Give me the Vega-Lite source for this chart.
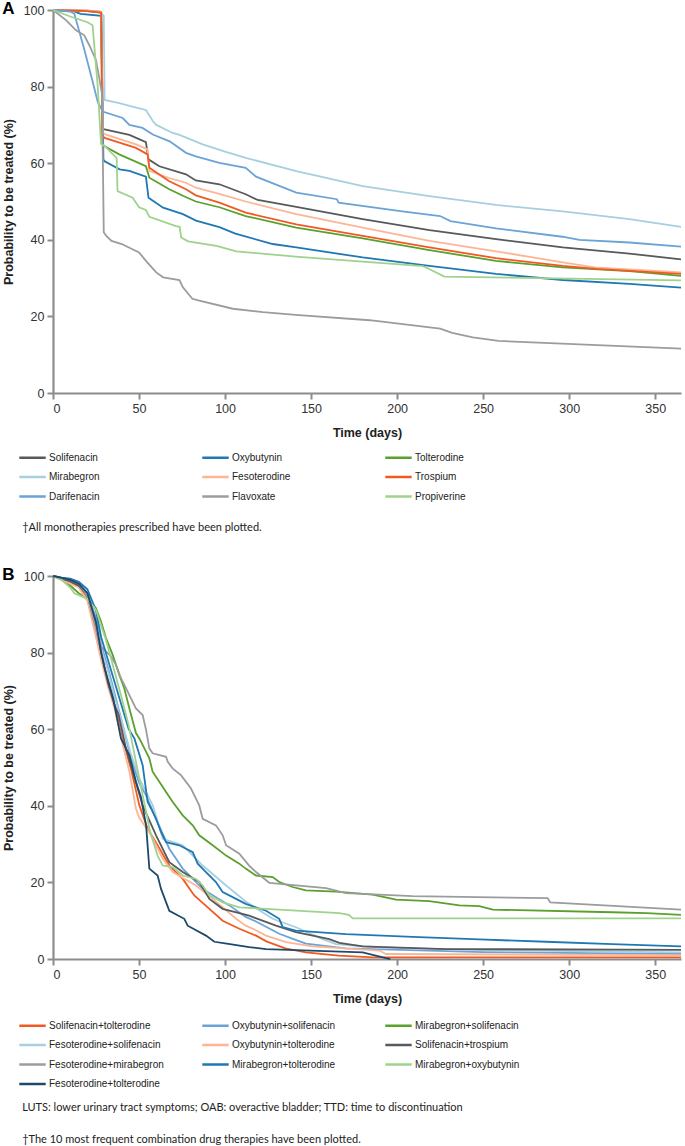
{
  "$schema": "https://vega.github.io/schema/vega-lite/v6.json",
  "padding": {"left": 2, "top": 0, "right": 0, "bottom": 0},
  "background": "white",
  "spacing": 33,
  "config": {
    "view": {"stroke": null},
    "font": "Liberation Sans",
    "axis": {"grid": false, "domainColor": "#8c8c8c", "domainWidth": 2.2, "tickColor": "#8c8c8c", "tickWidth": 2, "tickSize": 6, "labelFont": "Liberation Sans", "labelFontSize": 12.5, "labelColor": "#333333", "labelPadding": 3, "titleFont": "Liberation Sans", "titleFontSize": 12.5, "titleFontWeight": "bold", "titleColor": "#222222"},
    "axisX": {"titlePadding": 12},
    "axisY": {"titlePadding": 8},
    "legend": {"orient": "none", "direction": "horizontal", "columns": 3, "gridAlign": "all", "symbolType": "M-2.2,0H2.2", "symbolSize": 144, "symbolStrokeWidth": 2.5, "labelFont": "Liberation Sans", "labelFontSize": 10, "labelColor": "#222222", "labelOffset": 9, "rowPadding": 6.5, "labelLimit": 300}
  },
  "resolve": {"scale": {"color": "independent"}, "legend": {"color": "independent"}},
  "datasets": {
    "mono": [
      {"drug":"Solifenacin","day":0,"p":100},{"drug":"Solifenacin","day":20,"p":99.8},{"drug":"Solifenacin","day":28,"p":99.5},{"drug":"Solifenacin","day":29,"p":69},{"drug":"Solifenacin","day":30,"p":68.8},{"drug":"Solifenacin","day":44.4,"p":67.4},{"drug":"Solifenacin","day":54,"p":65.5},{"drug":"Solifenacin","day":55.5,"p":61},{"drug":"Solifenacin","day":61.8,"p":59.2},{"drug":"Solifenacin","day":77.3,"p":57.1},{"drug":"Solifenacin","day":83,"p":55.5},{"drug":"Solifenacin","day":96.7,"p":54.5},{"drug":"Solifenacin","day":112,"p":51.9},{"drug":"Solifenacin","day":119,"p":50.4},{"drug":"Solifenacin","day":141.4,"p":48.6},{"drug":"Solifenacin","day":180,"p":45.4},{"drug":"Solifenacin","day":218.8,"p":42.5},{"drug":"Solifenacin","day":257.5,"p":40.2},{"drug":"Solifenacin","day":296.3,"p":38},{"drug":"Solifenacin","day":335,"p":36.4},{"drug":"Solifenacin","day":365,"p":34.9},
      {"drug":"Oxybutynin","day":0,"p":100},{"drug":"Oxybutynin","day":12,"p":99.7},{"drug":"Oxybutynin","day":16,"p":99},{"drug":"Oxybutynin","day":28,"p":98.5},{"drug":"Oxybutynin","day":29.3,"p":61},{"drug":"Oxybutynin","day":30,"p":60.5},{"drug":"Oxybutynin","day":38.7,"p":58.4},{"drug":"Oxybutynin","day":44.4,"p":58},{"drug":"Oxybutynin","day":54,"p":56.5},{"drug":"Oxybutynin","day":55.5,"p":51},{"drug":"Oxybutynin","day":64,"p":48.4},{"drug":"Oxybutynin","day":75.5,"p":46.7},{"drug":"Oxybutynin","day":83.1,"p":45},{"drug":"Oxybutynin","day":96.7,"p":43.3},{"drug":"Oxybutynin","day":106,"p":41.6},{"drug":"Oxybutynin","day":127.7,"p":38.9},{"drug":"Oxybutynin","day":141.4,"p":38},{"drug":"Oxybutynin","day":180,"p":35.4},{"drug":"Oxybutynin","day":218.8,"p":33.2},{"drug":"Oxybutynin","day":257.5,"p":31.1},{"drug":"Oxybutynin","day":296.3,"p":29.5},{"drug":"Oxybutynin","day":335,"p":28.5},{"drug":"Oxybutynin","day":365,"p":27.5},
      {"drug":"Tolterodine","day":0,"p":100},{"drug":"Tolterodine","day":20,"p":99.7},{"drug":"Tolterodine","day":28,"p":99.3},{"drug":"Tolterodine","day":28.7,"p":65},{"drug":"Tolterodine","day":30,"p":64.4},{"drug":"Tolterodine","day":38.5,"p":62.3},{"drug":"Tolterodine","day":54,"p":59.2},{"drug":"Tolterodine","day":56,"p":56.2},{"drug":"Tolterodine","day":67.6,"p":53.2},{"drug":"Tolterodine","day":75.5,"p":51.5},{"drug":"Tolterodine","day":83,"p":50},{"drug":"Tolterodine","day":96.7,"p":48.5},{"drug":"Tolterodine","day":112,"p":46.2},{"drug":"Tolterodine","day":141.4,"p":43.2},{"drug":"Tolterodine","day":180,"p":40.4},{"drug":"Tolterodine","day":218.8,"p":37.3},{"drug":"Tolterodine","day":257.5,"p":34.5},{"drug":"Tolterodine","day":296.3,"p":32.8},{"drug":"Tolterodine","day":335,"p":31.8},{"drug":"Tolterodine","day":365,"p":30.6},
      {"drug":"Mirabegron","day":0,"p":100},{"drug":"Mirabegron","day":15,"p":99.9},{"drug":"Mirabegron","day":27,"p":99.5},{"drug":"Mirabegron","day":29.5,"p":98.5},{"drug":"Mirabegron","day":30,"p":76.5},{"drug":"Mirabegron","day":38.5,"p":75.7},{"drug":"Mirabegron","day":48.4,"p":74.5},{"drug":"Mirabegron","day":54,"p":73.9},{"drug":"Mirabegron","day":58,"p":71},{"drug":"Mirabegron","day":60,"p":70},{"drug":"Mirabegron","day":69.6,"p":67.9},{"drug":"Mirabegron","day":73.5,"p":67.4},{"drug":"Mirabegron","day":87,"p":64.9},{"drug":"Mirabegron","day":100,"p":63},{"drug":"Mirabegron","day":112,"p":61.4},{"drug":"Mirabegron","day":141.4,"p":57.9},{"drug":"Mirabegron","day":180,"p":54},{"drug":"Mirabegron","day":218.8,"p":51.4},{"drug":"Mirabegron","day":257.5,"p":49.1},{"drug":"Mirabegron","day":296.3,"p":47.4},{"drug":"Mirabegron","day":335,"p":45.4},{"drug":"Mirabegron","day":365,"p":43.4},
      {"drug":"Fesoterodine","day":0,"p":100},{"drug":"Fesoterodine","day":20,"p":99.8},{"drug":"Fesoterodine","day":28,"p":99.5},{"drug":"Fesoterodine","day":29,"p":68},{"drug":"Fesoterodine","day":30,"p":67.6},{"drug":"Fesoterodine","day":48.2,"p":64.9},{"drug":"Fesoterodine","day":55,"p":63.6},{"drug":"Fesoterodine","day":56,"p":58},{"drug":"Fesoterodine","day":67,"p":56.2},{"drug":"Fesoterodine","day":77.3,"p":54.9},{"drug":"Fesoterodine","day":83,"p":53.6},{"drug":"Fesoterodine","day":96.7,"p":52},{"drug":"Fesoterodine","day":112,"p":50},{"drug":"Fesoterodine","day":141.4,"p":46.7},{"drug":"Fesoterodine","day":180,"p":43.2},{"drug":"Fesoterodine","day":218.8,"p":39.7},{"drug":"Fesoterodine","day":257.5,"p":37},{"drug":"Fesoterodine","day":296.3,"p":34.1},{"drug":"Fesoterodine","day":315,"p":32.8},{"drug":"Fesoterodine","day":365,"p":31.5},
      {"drug":"Trospium","day":0,"p":100},{"drug":"Trospium","day":20,"p":99.7},{"drug":"Trospium","day":28,"p":99.3},{"drug":"Trospium","day":28.7,"p":67.2},{"drug":"Trospium","day":30,"p":66.6},{"drug":"Trospium","day":48.2,"p":64},{"drug":"Trospium","day":55,"p":62.3},{"drug":"Trospium","day":56,"p":58.8},{"drug":"Trospium","day":67.6,"p":55.3},{"drug":"Trospium","day":77.3,"p":53.2},{"drug":"Trospium","day":83,"p":51.6},{"drug":"Trospium","day":96.7,"p":49.7},{"drug":"Trospium","day":112,"p":47.1},{"drug":"Trospium","day":141.4,"p":44},{"drug":"Trospium","day":180,"p":41},{"drug":"Trospium","day":218.8,"p":38},{"drug":"Trospium","day":257.5,"p":35.2},{"drug":"Trospium","day":296.3,"p":33.2},{"drug":"Trospium","day":316,"p":32.4},{"drug":"Trospium","day":365,"p":31.1},
      {"drug":"Darifenacin","day":0,"p":100},{"drug":"Darifenacin","day":10,"p":99.6},{"drug":"Darifenacin","day":12.4,"p":99},{"drug":"Darifenacin","day":18,"p":90},{"drug":"Darifenacin","day":23.2,"p":81},{"drug":"Darifenacin","day":26,"p":76},{"drug":"Darifenacin","day":28.9,"p":73.5},{"drug":"Darifenacin","day":40.5,"p":71.8},{"drug":"Darifenacin","day":44.4,"p":70},{"drug":"Darifenacin","day":52,"p":69.2},{"drug":"Darifenacin","day":58,"p":67.5},{"drug":"Darifenacin","day":67.8,"p":65.7},{"drug":"Darifenacin","day":77.3,"p":62.7},{"drug":"Darifenacin","day":83,"p":61.8},{"drug":"Darifenacin","day":96.7,"p":60.1},{"drug":"Darifenacin","day":112,"p":58.8},{"drug":"Darifenacin","day":118,"p":56.5},{"drug":"Darifenacin","day":141.4,"p":52.3},{"drug":"Darifenacin","day":165,"p":50.6},{"drug":"Darifenacin","day":166,"p":49.7},{"drug":"Darifenacin","day":203,"p":47.4},{"drug":"Darifenacin","day":225,"p":46.2},{"drug":"Darifenacin","day":231,"p":44.9},{"drug":"Darifenacin","day":257.5,"p":43},{"drug":"Darifenacin","day":296,"p":40.8},{"drug":"Darifenacin","day":306,"p":40},{"drug":"Darifenacin","day":335,"p":39.3},{"drug":"Darifenacin","day":365,"p":38.2},
      {"drug":"Flavoxate","day":0,"p":100},{"drug":"Flavoxate","day":7.7,"p":97.3},{"drug":"Flavoxate","day":13.4,"p":94.7},{"drug":"Flavoxate","day":18.2,"p":93.4},{"drug":"Flavoxate","day":21.1,"p":90.8},{"drug":"Flavoxate","day":25,"p":86.9},{"drug":"Flavoxate","day":26.9,"p":82.2},{"drug":"Flavoxate","day":28.5,"p":78},{"drug":"Flavoxate","day":29.5,"p":42},{"drug":"Flavoxate","day":31,"p":41},{"drug":"Flavoxate","day":34,"p":39.7},{"drug":"Flavoxate","day":40,"p":38.9},{"drug":"Flavoxate","day":50,"p":36.7},{"drug":"Flavoxate","day":54,"p":34.5},{"drug":"Flavoxate","day":60,"p":31.5},{"drug":"Flavoxate","day":64,"p":30.2},{"drug":"Flavoxate","day":73.5,"p":29.5},{"drug":"Flavoxate","day":75.5,"p":27.6},{"drug":"Flavoxate","day":81,"p":24.6},{"drug":"Flavoxate","day":85,"p":24.1},{"drug":"Flavoxate","day":104.5,"p":22},{"drug":"Flavoxate","day":122,"p":21.1},{"drug":"Flavoxate","day":141,"p":20.4},{"drug":"Flavoxate","day":184,"p":19},{"drug":"Flavoxate","day":225,"p":16.8},{"drug":"Flavoxate","day":232,"p":15.7},{"drug":"Flavoxate","day":244,"p":14.5},{"drug":"Flavoxate","day":259,"p":13.6},{"drug":"Flavoxate","day":365,"p":11.6},
      {"drug":"Propiverine","day":0,"p":100},{"drug":"Propiverine","day":10,"p":98.3},{"drug":"Propiverine","day":20,"p":96.8},{"drug":"Propiverine","day":23,"p":96},{"drug":"Propiverine","day":26,"p":80},{"drug":"Propiverine","day":27.9,"p":65},{"drug":"Propiverine","day":30,"p":64.5},{"drug":"Propiverine","day":37,"p":61.3},{"drug":"Propiverine","day":37.5,"p":52.7},{"drug":"Propiverine","day":46.3,"p":51},{"drug":"Propiverine","day":50,"p":48.5},{"drug":"Propiverine","day":54,"p":47.8},{"drug":"Propiverine","day":56,"p":46},{"drug":"Propiverine","day":71.5,"p":43.6},{"drug":"Propiverine","day":73.6,"p":43.4},{"drug":"Propiverine","day":74.5,"p":40.6},{"drug":"Propiverine","day":78.5,"p":39.6},{"drug":"Propiverine","day":95,"p":38.4},{"drug":"Propiverine","day":106.6,"p":37},{"drug":"Propiverine","day":141,"p":35.6},{"drug":"Propiverine","day":215,"p":33.1},{"drug":"Propiverine","day":218,"p":32.5},{"drug":"Propiverine","day":227.5,"p":30.4},{"drug":"Propiverine","day":365,"p":29.4}
    ],
    "combo": [
      {"drug":"Solifenacin+tolterodine","day":0,"p":100},{"drug":"Solifenacin+tolterodine","day":5,"p":99.3},{"drug":"Solifenacin+tolterodine","day":10,"p":98.5},{"drug":"Solifenacin+tolterodine","day":15,"p":97.2},{"drug":"Solifenacin+tolterodine","day":20,"p":94},{"drug":"Solifenacin+tolterodine","day":25,"p":86},{"drug":"Solifenacin+tolterodine","day":28,"p":80},{"drug":"Solifenacin+tolterodine","day":32,"p":72},{"drug":"Solifenacin+tolterodine","day":36,"p":66},{"drug":"Solifenacin+tolterodine","day":40,"p":58},{"drug":"Solifenacin+tolterodine","day":45.3,"p":49.7},{"drug":"Solifenacin+tolterodine","day":50.2,"p":40.1},{"drug":"Solifenacin+tolterodine","day":55,"p":34},{"drug":"Solifenacin+tolterodine","day":60.8,"p":29.7},{"drug":"Solifenacin+tolterodine","day":67.6,"p":24.4},{"drug":"Solifenacin+tolterodine","day":75.4,"p":20.9},{"drug":"Solifenacin+tolterodine","day":82.1,"p":16.6},{"drug":"Solifenacin+tolterodine","day":90.9,"p":13.1},{"drug":"Solifenacin+tolterodine","day":98.6,"p":10},{"drug":"Solifenacin+tolterodine","day":108.3,"p":7.9},{"drug":"Solifenacin+tolterodine","day":118,"p":6.1},{"drug":"Solifenacin+tolterodine","day":124,"p":4.6},{"drug":"Solifenacin+tolterodine","day":135,"p":2.8},{"drug":"Solifenacin+tolterodine","day":147,"p":1.75},{"drug":"Solifenacin+tolterodine","day":166,"p":0.9},{"drug":"Solifenacin+tolterodine","day":186,"p":0.4},{"drug":"Solifenacin+tolterodine","day":365,"p":0.4},
      {"drug":"Oxybutynin+solifenacin","day":0,"p":100},{"drug":"Oxybutynin+solifenacin","day":5,"p":99.5},{"drug":"Oxybutynin+solifenacin","day":10,"p":99},{"drug":"Oxybutynin+solifenacin","day":15,"p":98},{"drug":"Oxybutynin+solifenacin","day":20,"p":95.5},{"drug":"Oxybutynin+solifenacin","day":25,"p":89},{"drug":"Oxybutynin+solifenacin","day":28,"p":82},{"drug":"Oxybutynin+solifenacin","day":32,"p":76},{"drug":"Oxybutynin+solifenacin","day":36,"p":69},{"drug":"Oxybutynin+solifenacin","day":40,"p":62},{"drug":"Oxybutynin+solifenacin","day":45,"p":53},{"drug":"Oxybutynin+solifenacin","day":50,"p":46},{"drug":"Oxybutynin+solifenacin","day":54,"p":42.8},{"drug":"Oxybutynin+solifenacin","day":59.9,"p":36.6},{"drug":"Oxybutynin+solifenacin","day":67.6,"p":28.8},{"drug":"Oxybutynin+solifenacin","day":75.4,"p":23.6},{"drug":"Oxybutynin+solifenacin","day":87,"p":18.3},{"drug":"Oxybutynin+solifenacin","day":102.5,"p":14},{"drug":"Oxybutynin+solifenacin","day":112,"p":11},{"drug":"Oxybutynin+solifenacin","day":118,"p":9.8},{"drug":"Oxybutynin+solifenacin","day":131.5,"p":6.6},{"drug":"Oxybutynin+solifenacin","day":141,"p":5},{"drug":"Oxybutynin+solifenacin","day":147,"p":4},{"drug":"Oxybutynin+solifenacin","day":170,"p":2.8},{"drug":"Oxybutynin+solifenacin","day":250,"p":1.8},{"drug":"Oxybutynin+solifenacin","day":365,"p":1.3},
      {"drug":"Mirabegron+solifenacin","day":0,"p":100},{"drug":"Mirabegron+solifenacin","day":5,"p":99},{"drug":"Mirabegron+solifenacin","day":10,"p":97.5},{"drug":"Mirabegron+solifenacin","day":15,"p":95.5},{"drug":"Mirabegron+solifenacin","day":20,"p":94},{"drug":"Mirabegron+solifenacin","day":25,"p":91.6},{"drug":"Mirabegron+solifenacin","day":27.9,"p":88.1},{"drug":"Mirabegron+solifenacin","day":30.8,"p":83.8},{"drug":"Mirabegron+solifenacin","day":34.7,"p":79.4},{"drug":"Mirabegron+solifenacin","day":38.5,"p":74.2},{"drug":"Mirabegron+solifenacin","day":41.4,"p":70.7},{"drug":"Mirabegron+solifenacin","day":44.4,"p":65.4},{"drug":"Mirabegron+solifenacin","day":48.2,"p":59},{"drug":"Mirabegron+solifenacin","day":50.2,"p":57.6},{"drug":"Mirabegron+solifenacin","day":56,"p":52.4},{"drug":"Mirabegron+solifenacin","day":57.9,"p":48.9},{"drug":"Mirabegron+solifenacin","day":61.8,"p":46.3},{"drug":"Mirabegron+solifenacin","day":65.7,"p":43.6},{"drug":"Mirabegron+solifenacin","day":69.6,"p":41},{"drug":"Mirabegron+solifenacin","day":75.4,"p":37.5},{"drug":"Mirabegron+solifenacin","day":81.2,"p":34.9},{"drug":"Mirabegron+solifenacin","day":85,"p":32.3},{"drug":"Mirabegron+solifenacin","day":92.8,"p":29.7},{"drug":"Mirabegron+solifenacin","day":100.6,"p":27},{"drug":"Mirabegron+solifenacin","day":108.3,"p":24.9},{"drug":"Mirabegron+solifenacin","day":112,"p":23.6},{"drug":"Mirabegron+solifenacin","day":118,"p":21.8},{"drug":"Mirabegron+solifenacin","day":127.7,"p":21.4},{"drug":"Mirabegron+solifenacin","day":131.5,"p":20.1},{"drug":"Mirabegron+solifenacin","day":139.3,"p":18.8},{"drug":"Mirabegron+solifenacin","day":147,"p":17.9},{"drug":"Mirabegron+solifenacin","day":164.5,"p":17.6},{"drug":"Mirabegron+solifenacin","day":185.8,"p":16.8},{"drug":"Mirabegron+solifenacin","day":199.4,"p":15.5},{"drug":"Mirabegron+solifenacin","day":218.7,"p":15.1},{"drug":"Mirabegron+solifenacin","day":236.2,"p":14},{"drug":"Mirabegron+solifenacin","day":247.8,"p":13.8},{"drug":"Mirabegron+solifenacin","day":255.6,"p":12.9},{"drug":"Mirabegron+solifenacin","day":325,"p":12.2},{"drug":"Mirabegron+solifenacin","day":345,"p":12},{"drug":"Mirabegron+solifenacin","day":365,"p":11.5},
      {"drug":"Fesoterodine+solifenacin","day":0,"p":100},{"drug":"Fesoterodine+solifenacin","day":5,"p":99.5},{"drug":"Fesoterodine+solifenacin","day":10,"p":98.8},{"drug":"Fesoterodine+solifenacin","day":15,"p":97.8},{"drug":"Fesoterodine+solifenacin","day":20,"p":95},{"drug":"Fesoterodine+solifenacin","day":25,"p":88},{"drug":"Fesoterodine+solifenacin","day":28,"p":81},{"drug":"Fesoterodine+solifenacin","day":32,"p":75},{"drug":"Fesoterodine+solifenacin","day":36,"p":68},{"drug":"Fesoterodine+solifenacin","day":40,"p":62},{"drug":"Fesoterodine+solifenacin","day":45,"p":54},{"drug":"Fesoterodine+solifenacin","day":50.2,"p":47.1},{"drug":"Fesoterodine+solifenacin","day":58,"p":40.1},{"drug":"Fesoterodine+solifenacin","day":63.8,"p":31.4},{"drug":"Fesoterodine+solifenacin","day":75.4,"p":29.7},{"drug":"Fesoterodine+solifenacin","day":87,"p":24.4},{"drug":"Fesoterodine+solifenacin","day":100.6,"p":19.2},{"drug":"Fesoterodine+solifenacin","day":112,"p":15},{"drug":"Fesoterodine+solifenacin","day":127.7,"p":10.5},{"drug":"Fesoterodine+solifenacin","day":141.2,"p":8.3},{"drug":"Fesoterodine+solifenacin","day":156.7,"p":5.2},{"drug":"Fesoterodine+solifenacin","day":164.5,"p":3.9},{"drug":"Fesoterodine+solifenacin","day":190,"p":3},{"drug":"Fesoterodine+solifenacin","day":250,"p":2.3},{"drug":"Fesoterodine+solifenacin","day":365,"p":1.75},
      {"drug":"Oxybutynin+tolterodine","day":0,"p":100},{"drug":"Oxybutynin+tolterodine","day":5,"p":99},{"drug":"Oxybutynin+tolterodine","day":10,"p":98},{"drug":"Oxybutynin+tolterodine","day":15,"p":97},{"drug":"Oxybutynin+tolterodine","day":20,"p":93.5},{"drug":"Oxybutynin+tolterodine","day":25,"p":84},{"drug":"Oxybutynin+tolterodine","day":28,"p":78},{"drug":"Oxybutynin+tolterodine","day":32,"p":71},{"drug":"Oxybutynin+tolterodine","day":36,"p":65},{"drug":"Oxybutynin+tolterodine","day":40,"p":57},{"drug":"Oxybutynin+tolterodine","day":44.4,"p":48.9},{"drug":"Oxybutynin+tolterodine","day":48.2,"p":39.3},{"drug":"Oxybutynin+tolterodine","day":50,"p":37},{"drug":"Oxybutynin+tolterodine","day":57,"p":32.3},{"drug":"Oxybutynin+tolterodine","day":63.8,"p":26.2},{"drug":"Oxybutynin+tolterodine","day":69.6,"p":22.7},{"drug":"Oxybutynin+tolterodine","day":83.1,"p":19.2},{"drug":"Oxybutynin+tolterodine","day":92.8,"p":15.7},{"drug":"Oxybutynin+tolterodine","day":106.4,"p":10.5},{"drug":"Oxybutynin+tolterodine","day":112,"p":8.7},{"drug":"Oxybutynin+tolterodine","day":118,"p":7.5},{"drug":"Oxybutynin+tolterodine","day":123.8,"p":6.1},{"drug":"Oxybutynin+tolterodine","day":135.4,"p":4.4},{"drug":"Oxybutynin+tolterodine","day":151,"p":3.3},{"drug":"Oxybutynin+tolterodine","day":189.7,"p":2.2},{"drug":"Oxybutynin+tolterodine","day":193.5,"p":1.3},{"drug":"Oxybutynin+tolterodine","day":365,"p":1},
      {"drug":"Solifenacin+trospium","day":0,"p":100},{"drug":"Solifenacin+trospium","day":5,"p":99.3},{"drug":"Solifenacin+trospium","day":10,"p":98.6},{"drug":"Solifenacin+trospium","day":15,"p":97.5},{"drug":"Solifenacin+trospium","day":20,"p":95},{"drug":"Solifenacin+trospium","day":25,"p":87},{"drug":"Solifenacin+trospium","day":28,"p":80},{"drug":"Solifenacin+trospium","day":32,"p":72},{"drug":"Solifenacin+trospium","day":36,"p":66},{"drug":"Solifenacin+trospium","day":38,"p":64},{"drug":"Solifenacin+trospium","day":42.4,"p":55},{"drug":"Solifenacin+trospium","day":52.1,"p":40.1},{"drug":"Solifenacin+trospium","day":59.9,"p":32.3},{"drug":"Solifenacin+trospium","day":67.6,"p":25.3},{"drug":"Solifenacin+trospium","day":75.4,"p":22.7},{"drug":"Solifenacin+trospium","day":85,"p":20.1},{"drug":"Solifenacin+trospium","day":90.9,"p":15.7},{"drug":"Solifenacin+trospium","day":98.6,"p":13.1},{"drug":"Solifenacin+trospium","day":114,"p":11.3},{"drug":"Solifenacin+trospium","day":129.6,"p":8.7},{"drug":"Solifenacin+trospium","day":141.2,"p":7},{"drug":"Solifenacin+trospium","day":151,"p":6.1},{"drug":"Solifenacin+trospium","day":160.6,"p":5.2},{"drug":"Solifenacin+trospium","day":166.4,"p":4.2},{"drug":"Solifenacin+trospium","day":180,"p":3.3},{"drug":"Solifenacin+trospium","day":228,"p":2.6},{"drug":"Solifenacin+trospium","day":365,"p":2.4},
      {"drug":"Fesoterodine+mirabegron","day":0,"p":100},{"drug":"Fesoterodine+mirabegron","day":5,"p":99.5},{"drug":"Fesoterodine+mirabegron","day":10,"p":99},{"drug":"Fesoterodine+mirabegron","day":15,"p":98},{"drug":"Fesoterodine+mirabegron","day":20,"p":95},{"drug":"Fesoterodine+mirabegron","day":25,"p":86},{"drug":"Fesoterodine+mirabegron","day":26.9,"p":82},{"drug":"Fesoterodine+mirabegron","day":30.8,"p":80.3},{"drug":"Fesoterodine+mirabegron","day":33.7,"p":79},{"drug":"Fesoterodine+mirabegron","day":36.6,"p":76.8},{"drug":"Fesoterodine+mirabegron","day":39.5,"p":73.3},{"drug":"Fesoterodine+mirabegron","day":42.4,"p":70.7},{"drug":"Fesoterodine+mirabegron","day":48.2,"p":65.4},{"drug":"Fesoterodine+mirabegron","day":52.1,"p":63.7},{"drug":"Fesoterodine+mirabegron","day":54,"p":60},{"drug":"Fesoterodine+mirabegron","day":56,"p":55},{"drug":"Fesoterodine+mirabegron","day":57.9,"p":53.7},{"drug":"Fesoterodine+mirabegron","day":65.7,"p":52.8},{"drug":"Fesoterodine+mirabegron","day":66.7,"p":51.5},{"drug":"Fesoterodine+mirabegron","day":69.6,"p":49.7},{"drug":"Fesoterodine+mirabegron","day":74.4,"p":48},{"drug":"Fesoterodine+mirabegron","day":80.2,"p":44.5},{"drug":"Fesoterodine+mirabegron","day":85,"p":40.1},{"drug":"Fesoterodine+mirabegron","day":87,"p":36.6},{"drug":"Fesoterodine+mirabegron","day":94.7,"p":34.9},{"drug":"Fesoterodine+mirabegron","day":98.6,"p":32.3},{"drug":"Fesoterodine+mirabegron","day":100.6,"p":29.7},{"drug":"Fesoterodine+mirabegron","day":108.3,"p":27.5},{"drug":"Fesoterodine+mirabegron","day":114,"p":24.4},{"drug":"Fesoterodine+mirabegron","day":118,"p":22.7},{"drug":"Fesoterodine+mirabegron","day":125.7,"p":19.9},{"drug":"Fesoterodine+mirabegron","day":158.7,"p":18.5},{"drug":"Fesoterodine+mirabegron","day":170.3,"p":17.2},{"drug":"Fesoterodine+mirabegron","day":209,"p":16.4},{"drug":"Fesoterodine+mirabegron","day":287.5,"p":15.9},{"drug":"Fesoterodine+mirabegron","day":289,"p":14.8},{"drug":"Fesoterodine+mirabegron","day":365,"p":12.9},
      {"drug":"Mirabegron+tolterodine","day":0,"p":100},{"drug":"Mirabegron+tolterodine","day":5,"p":99.6},{"drug":"Mirabegron+tolterodine","day":10,"p":99.3},{"drug":"Mirabegron+tolterodine","day":15,"p":98.5},{"drug":"Mirabegron+tolterodine","day":20,"p":96.5},{"drug":"Mirabegron+tolterodine","day":25,"p":91},{"drug":"Mirabegron+tolterodine","day":28,"p":84},{"drug":"Mirabegron+tolterodine","day":32,"p":78},{"drug":"Mirabegron+tolterodine","day":36,"p":72},{"drug":"Mirabegron+tolterodine","day":40,"p":66},{"drug":"Mirabegron+tolterodine","day":44,"p":60},{"drug":"Mirabegron+tolterodine","day":47.3,"p":57.6},{"drug":"Mirabegron+tolterodine","day":52.1,"p":50.6},{"drug":"Mirabegron+tolterodine","day":55,"p":41},{"drug":"Mirabegron+tolterodine","day":57,"p":39.3},{"drug":"Mirabegron+tolterodine","day":59.9,"p":36.6},{"drug":"Mirabegron+tolterodine","day":62.8,"p":33.2},{"drug":"Mirabegron+tolterodine","day":65.7,"p":30.5},{"drug":"Mirabegron+tolterodine","day":73.4,"p":29.7},{"drug":"Mirabegron+tolterodine","day":81.2,"p":27.9},{"drug":"Mirabegron+tolterodine","day":84.1,"p":24.9},{"drug":"Mirabegron+tolterodine","day":88.9,"p":22.7},{"drug":"Mirabegron+tolterodine","day":94.7,"p":20.1},{"drug":"Mirabegron+tolterodine","day":98.6,"p":17.5},{"drug":"Mirabegron+tolterodine","day":106.4,"p":15.7},{"drug":"Mirabegron+tolterodine","day":112,"p":14.4},{"drug":"Mirabegron+tolterodine","day":123.8,"p":12.6},{"drug":"Mirabegron+tolterodine","day":131.5,"p":10.5},{"drug":"Mirabegron+tolterodine","day":133.5,"p":8.3},{"drug":"Mirabegron+tolterodine","day":141,"p":7.4},{"drug":"Mirabegron+tolterodine","day":170.3,"p":6.5},{"drug":"Mirabegron+tolterodine","day":209,"p":5.8},{"drug":"Mirabegron+tolterodine","day":247.8,"p":5.1},{"drug":"Mirabegron+tolterodine","day":286.5,"p":4.5},{"drug":"Mirabegron+tolterodine","day":325,"p":3.9},{"drug":"Mirabegron+tolterodine","day":365,"p":3.3},
      {"drug":"Mirabegron+oxybutynin","day":0,"p":100},{"drug":"Mirabegron+oxybutynin","day":5,"p":99},{"drug":"Mirabegron+oxybutynin","day":10,"p":97},{"drug":"Mirabegron+oxybutynin","day":12.4,"p":95.5},{"drug":"Mirabegron+oxybutynin","day":15,"p":95},{"drug":"Mirabegron+oxybutynin","day":20,"p":94},{"drug":"Mirabegron+oxybutynin","day":25,"p":91.2},{"drug":"Mirabegron+oxybutynin","day":28,"p":87},{"drug":"Mirabegron+oxybutynin","day":30.8,"p":83.3},{"drug":"Mirabegron+oxybutynin","day":33.7,"p":78.5},{"drug":"Mirabegron+oxybutynin","day":37,"p":73},{"drug":"Mirabegron+oxybutynin","day":40,"p":68},{"drug":"Mirabegron+oxybutynin","day":44,"p":61},{"drug":"Mirabegron+oxybutynin","day":48,"p":52},{"drug":"Mirabegron+oxybutynin","day":52,"p":43},{"drug":"Mirabegron+oxybutynin","day":55,"p":36.6},{"drug":"Mirabegron+oxybutynin","day":56,"p":34},{"drug":"Mirabegron+oxybutynin","day":58.9,"p":29.7},{"drug":"Mirabegron+oxybutynin","day":60.8,"p":27},{"drug":"Mirabegron+oxybutynin","day":63.8,"p":24.4},{"drug":"Mirabegron+oxybutynin","day":69.6,"p":24},{"drug":"Mirabegron+oxybutynin","day":75.4,"p":21.8},{"drug":"Mirabegron+oxybutynin","day":83.1,"p":20.9},{"drug":"Mirabegron+oxybutynin","day":87,"p":19.2},{"drug":"Mirabegron+oxybutynin","day":90.9,"p":16.6},{"drug":"Mirabegron+oxybutynin","day":98.6,"p":14.8},{"drug":"Mirabegron+oxybutynin","day":108.3,"p":13.5},{"drug":"Mirabegron+oxybutynin","day":123.8,"p":13.1},{"drug":"Mirabegron+oxybutynin","day":166.4,"p":12},{"drug":"Mirabegron+oxybutynin","day":172,"p":11.5},{"drug":"Mirabegron+oxybutynin","day":174.2,"p":10.6},{"drug":"Mirabegron+oxybutynin","day":365,"p":10.6},
      {"drug":"Fesoterodine+tolterodine","day":0,"p":100},{"drug":"Fesoterodine+tolterodine","day":5,"p":99.5},{"drug":"Fesoterodine+tolterodine","day":10,"p":99},{"drug":"Fesoterodine+tolterodine","day":15,"p":98},{"drug":"Fesoterodine+tolterodine","day":20,"p":95.5},{"drug":"Fesoterodine+tolterodine","day":25,"p":88},{"drug":"Fesoterodine+tolterodine","day":28,"p":80},{"drug":"Fesoterodine+tolterodine","day":30,"p":76},{"drug":"Fesoterodine+tolterodine","day":35,"p":68},{"drug":"Fesoterodine+tolterodine","day":39.5,"p":57.6},{"drug":"Fesoterodine+tolterodine","day":44.4,"p":53.2},{"drug":"Fesoterodine+tolterodine","day":48.2,"p":46.3},{"drug":"Fesoterodine+tolterodine","day":51.1,"p":42.3},{"drug":"Fesoterodine+tolterodine","day":54.1,"p":34.9},{"drug":"Fesoterodine+tolterodine","day":56,"p":23.6},{"drug":"Fesoterodine+tolterodine","day":60.8,"p":21.8},{"drug":"Fesoterodine+tolterodine","day":62.8,"p":18.3},{"drug":"Fesoterodine+tolterodine","day":67.6,"p":12.6},{"drug":"Fesoterodine+tolterodine","day":76.3,"p":10.5},{"drug":"Fesoterodine+tolterodine","day":78.3,"p":8.7},{"drug":"Fesoterodine+tolterodine","day":88.9,"p":6.1},{"drug":"Fesoterodine+tolterodine","day":93.8,"p":4.5},{"drug":"Fesoterodine+tolterodine","day":101,"p":4},{"drug":"Fesoterodine+tolterodine","day":114,"p":3.1},{"drug":"Fesoterodine+tolterodine","day":123.8,"p":2.6},{"drug":"Fesoterodine+tolterodine","day":180,"p":1.75},{"drug":"Fesoterodine+tolterodine","day":193.5,"p":0.2},{"drug":"Fesoterodine+tolterodine","day":196,"p":0}
    ]
  },
  "vconcat": [
    {
      "title": {"text": "†All monotherapies prescribed have been plotted.", "orient": "bottom", "anchor": "start", "frame": "bounds", "font": "Lato", "fontSize": 11, "fontWeight": "normal", "color": "#222222", "offset": 20, "dx": 20},
      "vconcat": [
        {
          "width": 628, "height": 383,
          "title": {"text": "A", "anchor": "start", "frame": "bounds", "fontSize": 17, "fontWeight": "bold", "color": "#000000", "offset": -14},
          "data": {"name": "mono"},
          "mark": {"type": "line", "strokeWidth": 1.8},
          "encoding": {
            "x": {"field": "day", "type": "quantitative", "scale": {"domain": [0, 365], "nice": false}, "axis": {"title": "Time (days)", "values": [0, 50, 100, 150, 200, 250, 300, 350]}},
            "y": {"field": "p", "type": "quantitative", "scale": {"domain": [0, 100]}, "axis": {"title": "Probability to be treated (%)", "values": [0, 20, 40, 60, 80, 100]}},
            "color": {"field": "drug", "type": "nominal",
              "scale": {"domain": ["Solifenacin", "Oxybutynin", "Tolterodine", "Mirabegron", "Fesoterodine", "Trospium", "Darifenacin", "Flavoxate", "Propiverine"],
                        "range": ["#58595b", "#1f78b4", "#5aa02c", "#a6cfe0", "#fdb596", "#f05a22", "#6ba3d6", "#9b9c9e", "#9fd28c"]},
              "legend": {"title": null, "legendX": -28, "legendY": 440, "columnPadding": 89}}
          }
        }
      ]
    },
    {
      "title": {"text": "LUTS: lower urinary tract symptoms; OAB: overactive bladder; TTD: time to discontinuation", "subtitle": "†The 10 most frequent combination drug therapies have been plotted.", "orient": "bottom", "anchor": "start", "frame": "bounds", "font": "Lato", "fontSize": 11, "fontWeight": "normal", "color": "#222222", "subtitleFont": "Lato", "subtitleFontSize": 11, "subtitleColor": "#222222", "subtitlePadding": 21, "offset": 13, "dx": 20},
      "vconcat": [
        {
          "width": 628, "height": 383,
          "title": {"text": "B", "anchor": "start", "frame": "bounds", "fontSize": 17, "fontWeight": "bold", "color": "#000000", "offset": -14},
          "data": {"name": "combo"},
          "mark": {"type": "line", "strokeWidth": 1.8},
          "encoding": {
            "x": {"field": "day", "type": "quantitative", "scale": {"domain": [0, 365], "nice": false}, "axis": {"title": "Time (days)", "values": [0, 50, 100, 150, 200, 250, 300, 350]}},
            "y": {"field": "p", "type": "quantitative", "scale": {"domain": [0, 100]}, "axis": {"title": "Probability to be treated (%)", "values": [0, 20, 40, 60, 80, 100]}},
            "color": {"field": "drug", "type": "nominal",
              "scale": {"domain": ["Solifenacin+tolterodine", "Oxybutynin+solifenacin", "Mirabegron+solifenacin", "Fesoterodine+solifenacin", "Oxybutynin+tolterodine", "Solifenacin+trospium", "Fesoterodine+mirabegron", "Mirabegron+tolterodine", "Mirabegron+oxybutynin", "Fesoterodine+tolterodine"],
                        "range": ["#f05a22", "#6ba3d6", "#5aa02c", "#a6cfe0", "#fdb596", "#58595b", "#9b9c9e", "#1f78b4", "#9fd28c", "#1d4a6b"]},
              "legend": {"title": null, "legendX": -28, "legendY": 442, "columnPadding": 33}}
          }
        }
      ]
    }
  ]
}
